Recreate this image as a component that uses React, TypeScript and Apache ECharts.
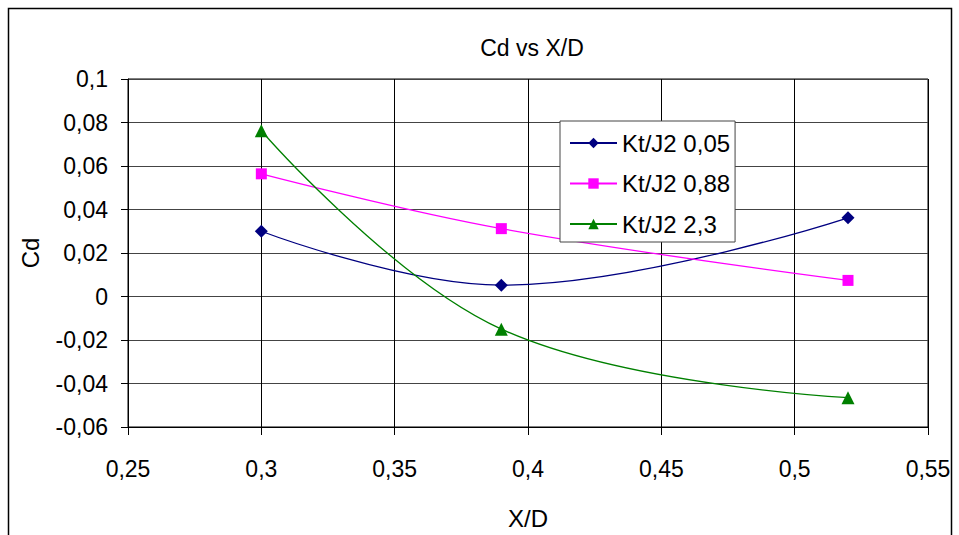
import React, { useEffect, useRef } from "react";
import * as echarts from "echarts";

const xValues = [0.3, 0.39, 0.52];
const seriesNames = ["Kt/J2 0,05", "Kt/J2 0,88", "Kt/J2 2,3"];
const cdLow = [0.03, 0.0052, 0.0362];
const cdMid = [0.0564, 0.0312, 0.0074];
const cdHigh = [0.0762, -0.015, -0.0465];
const colors = ["#000080", "#FF00FF", "#008000"];
const symbols = ["diamond", "rect", "triangle"];

const fmt = (v: number) => String(parseFloat(v.toFixed(2))).replace(".", ",");

export default function App() {
  const ref = useRef<HTMLDivElement>(null);
  useEffect(() => {
    if (!ref.current) return;
    const chart = echarts.init(ref.current, null, { renderer: "svg" });
    const all = [cdLow, cdMid, cdHigh];
    const font = "'Liberation Sans', Arial, sans-serif";
    chart.setOption({
      animation: false,
      backgroundColor: "#fff",
      textStyle: { fontFamily: font },
      title: {
        text: "Cd vs X/D",
        left: 527,
        top: 31,
        textAlign: "center",
        textStyle: { fontFamily: font, fontSize: 23, fontWeight: "normal", color: "#000" },
      },
      legend: {
        left: 560,
        top: 121,
        orient: "vertical",
        itemGap: 14.5,
        itemWidth: 47,
        itemHeight: 13,
        padding: [9, 5, 5, 9],
        borderColor: "#444",
        borderWidth: 1,
        backgroundColor: "#fff",
        textStyle: { fontFamily: font, fontSize: 24, lineHeight: 26, color: "#000" },
        data: seriesNames,
      },
      graphic: [
        {
          type: "rect",
          shape: { x: 8.5, y: 8.5, width: 943, height: 560 },
          style: { fill: "none", stroke: "#000", lineWidth: 1.5 },
          silent: true,
        },
      ],
      grid: { left: 128, top: 79, width: 800, height: 356, show: true, borderColor: "#000", borderWidth: 1 },
      xAxis: {
        type: "value",
        min: 0.25,
        max: 0.55,
        interval: 0.05,
        name: "X/D",
        nameLocation: "middle",
        nameGap: 79,
        nameTextStyle: { fontFamily: font, fontSize: 24, color: "#000" },
        axisLine: { onZero: false, lineStyle: { color: "#000" } },
        axisTick: { show: true, length: 8, lineStyle: { color: "#000" } },
        axisLabel: { formatter: fmt, fontSize: 23, color: "#000", margin: 30, fontFamily: font },
        splitLine: { show: true, lineStyle: { color: "#000", width: 1 } },
      },
      yAxis: {
        type: "value",
        min: -0.06,
        max: 0.1,
        interval: 0.02,
        name: "Cd",
        nameLocation: "middle",
        nameGap: 86,
        nameRotate: 90,
        nameTextStyle: { fontFamily: font, fontSize: 24, color: "#000" },
        axisLine: { show: true, lineStyle: { color: "#000" } },
        axisTick: { show: true, length: 7, lineStyle: { color: "#000" } },
        axisLabel: { formatter: fmt, fontSize: 23, color: "#000", margin: 20, fontFamily: font },
        splitLine: { show: true, lineStyle: { color: "#444", width: 1 } },
      },
      series: all.map((vals, i) => ({
        name: seriesNames[i],
        type: "line",
        smooth: 0.4,
        data: xValues.map((x, j) => [x, vals[j]]),
        symbol: symbols[i],
        symbolSize: i === 1 ? 11 : 13,
        lineStyle: { color: colors[i], width: 1.3 },
        itemStyle: { color: colors[i] },
      })),
    });
    return () => chart.dispose();
  }, []);
  return <div ref={ref} style={{ position: "fixed", left: 0, top: 0, width: 959, height: 535 }} />;
}
